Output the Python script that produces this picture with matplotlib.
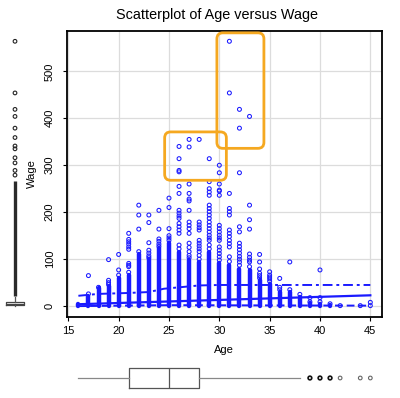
import numpy as np
import matplotlib.pyplot as plt
from matplotlib.patches import FancyBboxPatch

plt.rcParams['font.family'] = ['Liberation Sans', 'DejaVu Sans']

# ages and the top of the solid (overplotted) part of each age column
ages = list(range(16, 46))
dense_top = [5, 22, 38, 42, 60, 66, 112, 100, 123, 135,
             116, 98, 94, 116, 91, 87, 80, 77, 55, 48,
             30, 30, 20, 6, 4, 3, 0, 0, 0, 0]
# separate points read above each column
sparse_wages = [
    [],
    [65, 26],
    [40],
    [99, 55, 50, 46],
    [110, 77, 66],
    [155, 142, 137, 132, 126, 121, 91, 87, 84, 72],
    [215, 194, 164, 116],
    [194, 178, 135, 119, 113, 107, 103],
    [204, 164, 143, 138, 132, 127],
    [230, 210, 165, 150, 145, 140],
    [340, 314, 289, 286, 255, 240, 204, 198, 192, 187, 176, 169, 162, 155, 130, 122],
    [355, 339, 260, 240, 228, 224, 204, 179, 172, 165, 155, 134, 125, 116, 108, 103],
    [355, 179, 173, 167, 162, 140, 134, 128, 122, 116, 108, 100],
    [314, 265, 250, 243, 236, 215, 208, 201, 194, 187, 179, 172, 165, 158, 151, 145, 140, 130, 122],
    [300, 284, 260, 247, 245, 236, 172, 165, 158, 151, 145, 140, 126, 119, 112, 105, 98],
    [564, 454, 240, 208, 201, 194, 162, 155, 148, 140, 133, 126, 105, 95],
    [419, 379, 284, 169, 158, 134, 127, 120, 113, 106, 100, 94, 87],
    [404, 215, 184, 164, 111, 104, 98, 94, 84],
    [110, 94, 79, 70, 65, 60],
    [73, 66, 62, 58, 53],
    [59, 40, 35],
    [94, 35],
    [25],
    [18, 9],
    [77, 18, 9],
    [5],
    [1],
    [],
    [1],
    [8, 1],
]

# fitted line and spread lines
fit_age = [16, 45]
fit_wage = [4, 23]
hi_age = [16, 18, 21, 23, 24.5, 26, 28, 30, 45]
hi_wage = [22, 26, 28, 30, 37, 40, 44, 45, 45]
lo_age = [16, 25, 45]
lo_wage = [0, 2, 1]

# marginal boxplot stats
wage_box = dict(whislo=0, q1=1.5, med=4, q3=9, whishi=20)
wage_band = (21, 266)
wage_fliers = [279, 289, 305, 316, 335, 341, 359, 379, 404, 419, 454, 564]
age_box = dict(whislo=16, q1=21, med=25, q3=28, whishi=38)
age_fliers_bold = [39, 40, 41]
age_fliers = [42, 44, 45]

# highlighted regions (age0, wage0, age1, wage1)
highlights = [(24.57, 268, 30.7, 371), (29.76, 336, 34.43, 582)]

W, H = 400, 398
fig = plt.figure(figsize=(W / 100, H / 100), dpi=100)
L, R, T, B = 66.7, 382, 30.7, 316.7
ax = fig.add_axes([L / W, 1 - B / H, (R - L) / W, (B - T) / H])
xlim = (14.84, 46.16)
ylim = (-22.56, 586.56)
ax.set_xlim(xlim)
ax.set_ylim(ylim)

blue = '#1a1aff'
ax.grid(True, color='#dcdcdc', lw=0.9)
ax.set_axisbelow(True)

lc = ax.vlines(ages, 0, dense_top, color=blue, lw=3.2, zorder=2)
lc.set_capstyle('round')
px = np.repeat(ages, [len(w) for w in sparse_wages])
py = np.concatenate([np.array(w, float) for w in sparse_wages])
ax.scatter(px, py, s=8, facecolors='none', edgecolors=blue, linewidths=0.75, zorder=3)

ax.plot(fit_age, fit_wage, color=blue, lw=1.6, zorder=4)
ax.plot(hi_age, hi_wage, color=blue, lw=1.4, dashes=(5, 2, 1.5, 2), zorder=4)
ax.plot(lo_age, lo_wage, color=blue, lw=1.4, dashes=(4, 2), zorder=4)

asp = (1 / 0.47) / (1 / 10.07)
for a0, w0, a1, w1 in highlights:
    p = FancyBboxPatch((a0, w0), a1 - a0, w1 - w0,
                       boxstyle='round,pad=0,rounding_size=0.6',
                       mutation_aspect=asp, fill=False,
                       ec='#f5a820', lw=2.0, zorder=6, clip_on=False)
    ax.add_patch(p)

ax.set_xticks(range(15, 50, 5))
ax.set_yticks(range(0, 600, 100))
ax.tick_params(direction='out', length=3, width=0.8, labelsize=8, colors='black')
ax.tick_params(axis='x', pad=4)
ax.tick_params(axis='y', pad=5.5)
for lab in ax.get_yticklabels():
    lab.set_rotation(90)
    lab.set_va('center')
for s in ax.spines.values():
    s.set_linewidth(1.3)
ax.set_xlabel('Age', fontsize=8, labelpad=6.5)
ax.set_ylabel('Wage', fontsize=8, labelpad=5.5)
fig.text(216.7 / W, 1 - 15 / H, 'Scatterplot of Age versus Wage',
         ha='center', va='center', fontsize=10.4)

# left marginal boxplot of wage
axl = fig.add_axes([0, 1 - B / H, 30 / W, (B - T) / H])
axl.set_ylim(ylim)
axl.set_xlim(0.5, 1.5)
axl.axis('off')
st = dict(wage_box, fliers=[])
axl.bxp([st], positions=[1], widths=0.6, showcaps=False, vert=True,
        boxprops=dict(color='#444444', lw=0.9),
        medianprops=dict(color='#444444', lw=0.9),
        whiskerprops=dict(color='#555555', lw=0.9))
axl.vlines([1], wage_band[0], wage_band[1], color='#2a2a2a', lw=2.4)
axl.scatter(np.ones(len(wage_fliers)), wage_fliers, s=7, facecolors='none',
            edgecolors='#222222', linewidths=0.8)

# bottom marginal boxplot of age
axb = fig.add_axes([L / W, 1 - 396 / H, (R - L) / W, 36 / H])
axb.set_xlim(xlim)
axb.set_ylim(0.5, 1.5)
axb.axis('off')
st = dict(age_box, fliers=[])
axb.bxp([st], positions=[1], widths=0.53, showcaps=False, vert=False,
        boxprops=dict(color='#555555', lw=0.9),
        medianprops=dict(color='#555555', lw=0.9),
        whiskerprops=dict(color='#888888', lw=0.9))
axb.scatter(age_fliers_bold, np.ones(len(age_fliers_bold)), s=7, facecolors='none',
            edgecolors='#111111', linewidths=1.2)
axb.scatter(age_fliers, np.ones(len(age_fliers)), s=7, facecolors='none',
            edgecolors='#666666', linewidths=0.8)

fig.savefig('out.png', dpi=100)
